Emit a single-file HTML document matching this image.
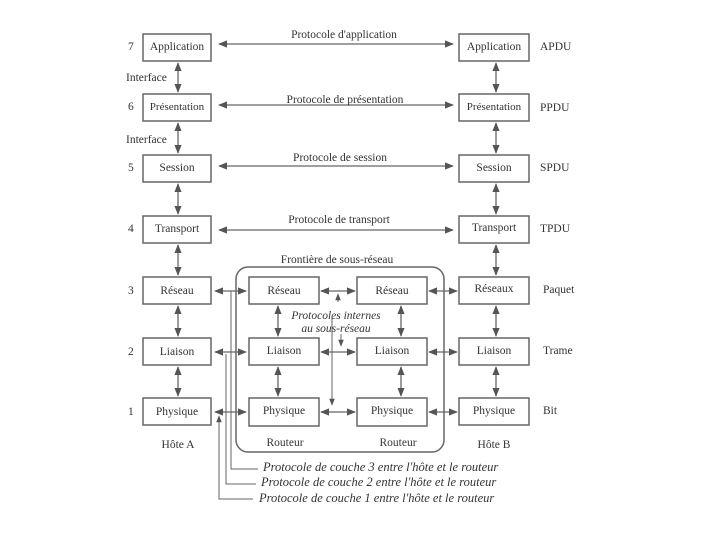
<!DOCTYPE html>
<html><head><meta charset="utf-8"><style>
body{margin:0;background:#fff}
svg text{font-family:"Liberation Serif",serif;fill:#333}
</style></head><body>
<svg width="720" height="540" viewBox="0 0 720 540" xmlns="http://www.w3.org/2000/svg">
<defs>
<marker id="a" viewBox="0 0 10 10" refX="9" refY="5" markerWidth="7" markerHeight="7" orient="auto-start-reverse"><path d="M0,1 L10,5 L0,9 z" fill="#555"/></marker>
</defs>
<g fill="none" stroke="#666" stroke-width="1.5">
<rect x="143" y="34" width="68" height="27"/><rect x="143" y="94" width="68" height="27"/>
<rect x="143" y="155" width="68" height="27"/><rect x="143" y="216" width="68" height="27"/>
<rect x="143" y="277" width="68" height="27"/><rect x="143" y="338" width="68" height="27"/>
<rect x="143" y="398" width="68" height="27"/>
<rect x="459" y="34" width="70" height="27"/><rect x="459" y="94" width="70" height="27"/>
<rect x="459" y="155" width="70" height="27"/><rect x="459" y="216" width="70" height="27"/>
<rect x="459" y="277" width="70" height="27"/><rect x="459" y="338" width="70" height="27"/>
<rect x="459" y="398" width="70" height="27"/>
<rect x="249" y="277" width="70" height="27"/><rect x="249" y="338" width="70" height="27"/><rect x="249" y="398" width="70" height="28"/>
<rect x="357" y="277" width="70" height="27"/><rect x="357" y="338" width="70" height="27"/><rect x="357" y="398" width="70" height="28"/>
<rect x="236" y="267" width="208" height="185" rx="12"/>
</g>
<g stroke="#666" stroke-width="1.3" marker-start="url(#a)" marker-end="url(#a)" fill="none">
<line x1="219" y1="44" x2="453" y2="44"/><line x1="219" y1="105" x2="453" y2="105"/>
<line x1="219" y1="166" x2="453" y2="166"/><line x1="219" y1="230" x2="453" y2="230"/>
<line x1="178" y1="63" x2="178" y2="92"/><line x1="178" y1="123" x2="178" y2="153"/>
<line x1="178" y1="184" x2="178" y2="214"/><line x1="178" y1="245" x2="178" y2="275"/>
<line x1="178" y1="306" x2="178" y2="336"/><line x1="178" y1="367" x2="178" y2="396"/>
<line x1="496" y1="63" x2="496" y2="92"/><line x1="496" y1="123" x2="496" y2="153"/>
<line x1="496" y1="184" x2="496" y2="214"/><line x1="496" y1="245" x2="496" y2="275"/>
<line x1="496" y1="306" x2="496" y2="336"/><line x1="496" y1="367" x2="496" y2="396"/>
<line x1="278" y1="306" x2="278" y2="336"/><line x1="278" y1="367" x2="278" y2="396"/>
<line x1="401" y1="306" x2="401" y2="336"/><line x1="401" y1="367" x2="401" y2="396"/>
<line x1="215" y1="291" x2="246" y2="291"/><line x1="215" y1="352" x2="246" y2="352"/><line x1="215" y1="412" x2="246" y2="412"/>
<line x1="321" y1="291" x2="355" y2="291"/><line x1="321" y1="352" x2="355" y2="352"/><line x1="321" y1="412" x2="355" y2="412"/>
<line x1="429" y1="291" x2="457" y2="291"/><line x1="429" y1="352" x2="457" y2="352"/><line x1="429" y1="412" x2="457" y2="412"/>
</g>
<g stroke="#666" stroke-width="1" fill="none">
<polyline points="231,291 231,469 258,469"/>
<polyline points="226,354 226,484 256,484"/>
<polyline points="219,416 219,499 253,499" marker-start="url(#a)"/>
<line x1="338" y1="302" x2="338" y2="294" marker-end="url(#a)"/>
<line x1="341" y1="334" x2="341" y2="346" marker-end="url(#a)"/>
<line x1="332" y1="318" x2="332" y2="405" marker-end="url(#a)"/>
</g>
<g font-size="11.5" text-anchor="middle">
<text x="177" y="50">Application</text><text x="177" y="110" font-size="11">Présentation</text>
<text x="177" y="171">Session</text><text x="177" y="232">Transport</text>
<text x="177" y="294">Réseau</text><text x="177" y="355">Liaison</text><text x="177" y="415">Physique</text>
<text x="494" y="50">Application</text><text x="494" y="110" font-size="11">Présentation</text>
<text x="494" y="171">Session</text><text x="494" y="231">Transport</text>
<text x="494" y="292">Réseaux</text><text x="494" y="354">Liaison</text><text x="494" y="414">Physique</text>
<text x="284" y="294">Réseau</text><text x="284" y="354">Liaison</text><text x="284" y="414">Physique</text>
<text x="392" y="294">Réseau</text><text x="392" y="354">Liaison</text><text x="392" y="414">Physique</text>
<text x="178" y="448">Hôte A</text><text x="494" y="448">Hôte B</text>
<text x="285" y="446">Routeur</text><text x="398" y="446">Routeur</text>
<text x="344" y="38">Protocole d'application</text>
<text x="345" y="103">Protocole de présentation</text>
<text x="340" y="161">Protocole de session</text>
<text x="339" y="223">Protocole de transport</text>
<text x="337" y="263">Frontière de sous-réseau</text>
<text x="336" y="319" font-style="italic">Protocoles internes</text>
<text x="336" y="332" font-style="italic">au sous-réseau</text>
</g>
<g font-size="11.5">
<text x="128" y="50">7</text><text x="128" y="110">6</text><text x="128" y="171">5</text><text x="128" y="232">4</text>
<text x="128" y="294">3</text><text x="128" y="355">2</text><text x="128" y="415">1</text>
<text x="126" y="81">Interface</text><text x="126" y="143">Interface</text>
<text x="540" y="50">APDU</text><text x="540" y="111">PPDU</text><text x="540" y="171">SPDU</text>
<text x="540" y="232">TPDU</text><text x="543" y="293">Paquet</text><text x="543" y="354">Trame</text><text x="543" y="414">Bit</text>
<g font-style="italic" font-size="12.5"><text x="263" y="471">Protocole de couche 3 entre l'hôte et le routeur</text>
<text x="261" y="486">Protocole de couche 2 entre l'hôte et le routeur</text>
<text x="259" y="502">Protocole de couche 1 entre l'hôte et le routeur</text></g>
</g>
</svg>
</body></html>
